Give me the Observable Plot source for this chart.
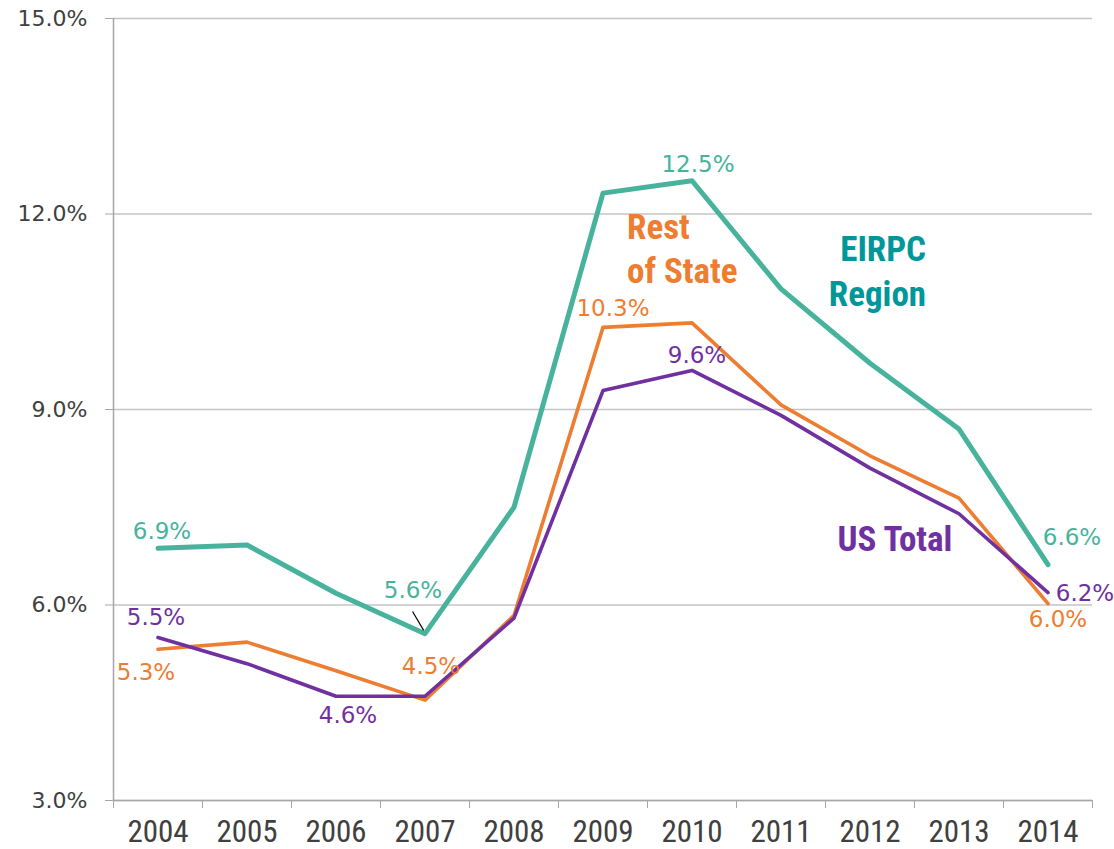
<!DOCTYPE html>
<html><head><meta charset="utf-8">
<script src="https://cdn.jsdelivr.net/npm/d3@7"></script>
<script src="https://cdn.jsdelivr.net/npm/@observablehq/plot@0.6"></script>
<style>body{margin:0;background:#fff} #chart svg{display:block}</style>
</head><body><div id="chart"></div>
<script>
// ---- data ----
const years = [2004, 2005, 2006, 2007, 2008, 2009, 2010, 2011, 2012, 2013, 2014];
const eirpcRegion = [6.87, 6.92, 6.18, 5.56, 7.50, 12.32, 12.51, 10.85, 9.71, 8.70, 6.62];
const restOfState = [5.32, 5.43, 4.99, 4.54, 5.84, 10.26, 10.33, 9.07, 8.29, 7.64, 6.02];
const usTotal = [5.50, 5.10, 4.60, 4.60, 5.80, 9.29, 9.60, 8.91, 8.10, 7.40, 6.19];
const yTicks = [3, 6, 9, 12, 15];
const seriesNames = ["EIRPC Region", "Rest of State", "US Total"];

// which points carry a value label
const labeledYears = {
  "EIRPC Region": [2004, 2007, 2010, 2014],
  "Rest of State": [2004, 2007, 2009, 2014],
  "US Total": [2004, 2006, 2010, 2014]
};

// ---- styles / annotation placement ----
const lineColor = {"EIRPC Region": "#47B39C", "Rest of State": "#ED7D31", "US Total": "#7030A0"};
const nameColor = {"EIRPC Region": "#00979A", "Rest of State": "#ED7D31", "US Total": "#7030A0"};
const lineWidth = {"EIRPC Region": 5, "Rest of State": 3.6, "US Total": 3.6};
const labelOffset = {
  "EIRPC Region": {2004: [4, -17], 2007: [-12, -43], 2010: [6, -16], 2014: [24, -27]},
  "Rest of State": {2004: [-12, 23], 2007: [6, -34], 2009: [10, -19], 2014: [10, 16]},
  "US Total": {2004: [-2, -20], 2006: [12, 19], 2010: [5, -15], 2014: [37, 1]}
};
const seriesLabels = [
  {name: "Rest of State", text: "Rest\nof State", x: 2009.27, y: 11.50, anchor: "start"},
  {name: "EIRPC Region", text: "EIRPC\nRegion", x: 2012.63, y: 11.15, anchor: "end"},
  {name: "US Total", text: "US Total", x: 2012.28, y: 7.05, anchor: "middle"}
];
const leader = [{x1: 2006.86, y1: 5.90, x2: 2006.985, y2: 5.61}];

const valuesBySeries = {"EIRPC Region": eirpcRegion, "Rest of State": restOfState, "US Total": usTotal};
const rows = seriesNames.flatMap(s => years.map((yr, i) => ({series: s, year: yr, value: valuesBySeries[s][i]})));
const boundaries = years.map(y => y - 0.5).concat([years[years.length - 1] + 0.5]);

const condensed = "'Roboto Condensed', 'DejaVu Sans Condensed', 'DejaVu Sans', sans-serif";

const drawOrder = ["Rest of State", "US Total", "EIRPC Region"];
const lineMarks = drawOrder.map(s => Plot.line(rows.filter(r => r.series === s), {
  x: "year", y: "value", stroke: lineColor[s], strokeWidth: lineWidth[s],
  strokeLinejoin: "round", strokeLinecap: "round"
}));

const valueLabelMarks = seriesNames.flatMap(s => labeledYears[s].map(yr => {
  const r = rows.find(d => d.series === s && d.year === yr);
  const [dx, dy] = labelOffset[s][yr];
  return Plot.text([r], {
    x: "year", y: "value", text: d => d.value.toFixed(1) + "%",
    dx, dy, fill: lineColor[s], fontSize: 23, fontFamily: "DejaVu Sans", textAnchor: "middle"
  });
}));

const nameMarks = seriesLabels.map(l => Plot.text([l], {
  x: "x", y: "y", text: "text", fill: nameColor[l.name], textAnchor: l.anchor,
  fontSize: 35, fontWeight: "bold", fontFamily: condensed, lineHeight: 1.26
}));

const chart = Plot.plot({
  width: 1114, height: 849,
  marginLeft: 113, marginRight: 22, marginTop: 18, marginBottom: 49,
  x: {domain: [boundaries[0], boundaries[boundaries.length - 1]]},
  y: {domain: [yTicks[0], yTicks[yTicks.length - 1]]},
  style: {background: "#fff", fontFamily: "DejaVu Sans"},
  marks: [
    Plot.gridY(yTicks, {stroke: "#c4c4c4", strokeOpacity: 1, strokeWidth: 1.3}),
    Plot.ruleX([boundaries[0]], {stroke: "#a6a6a6", strokeWidth: 1.5}),
    Plot.ruleY([yTicks[0]], {stroke: "#a6a6a6", strokeWidth: 1.5}),
    Plot.axisY(yTicks, {tickSize: 8, tickPadding: 18, stroke: "#a6a6a6", fill: "#404040",
      fontSize: 22, tickFormat: d => d.toFixed(1) + "%", label: null}),
    Plot.axisX(boundaries, {tickSize: 8, stroke: "#a6a6a6", tickFormat: () => "", label: null}),
    Plot.axisX(years, {tickSize: 0, tickPadding: 19, fill: "#404040", fontSize: 31,
      fontFamily: condensed, tickFormat: d => String(d), label: null}),
    ...lineMarks,
    Plot.link(leader, {x1: "x1", y1: "y1", x2: "x2", y2: "y2", stroke: "#000", strokeWidth: 1.2}),
    ...valueLabelMarks,
    ...nameMarks
  ]
});
document.getElementById("chart").append(chart);
</script>
</body></html>
